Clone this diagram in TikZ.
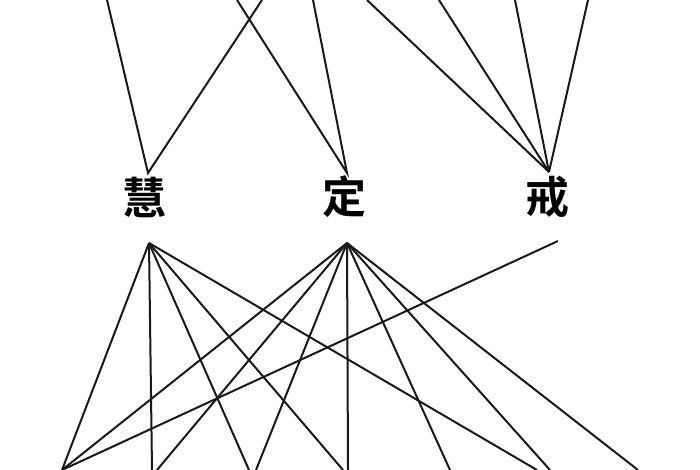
\documentclass[tikz,border=0pt]{standalone}
\usepackage{fontspec}
\newfontfamily\cjk{Noto Sans CJK SC Bold}
\begin{document}
\begin{tikzpicture}[x=1pt,y=-1pt,
  link/.style={draw=black!90,line width=2pt},
  lbl/.style={font=\cjk\fontsize{44}{44}\selectfont,inner sep=0pt}]
\path[use as bounding box] (0,0) rectangle (700,470);
% labels
\node[lbl] (hui)  at (144,197) {慧};
\node[lbl] (ding) at (344,197) {定};
\node[lbl] (jie)  at (547,197) {戒};
% apex points
\coordinate (hT) at (148,173);
\coordinate (dT) at (347,173);
\coordinate (jT) at (549,172);
\coordinate (hB) at (149,243);
\coordinate (dB) at (347,243);
\coordinate (jB) at (558,241);
% top ends
\coordinate (t1) at (107,0);
\coordinate (t2) at (262,0);
\coordinate (t3) at (237,0);
\coordinate (t4) at (313,0);
\coordinate (t5) at (367,0);
\coordinate (t6) at (439,0);
\coordinate (t7) at (515,0);
\coordinate (t8) at (588,0);
% bottom ends
\coordinate (b1) at (62,470);
\coordinate (b2) at (152,470);
\coordinate (b3) at (157,470);
\coordinate (b4) at (249,470);
\coordinate (b5) at (256,470);
\coordinate (b6) at (343,470);
\coordinate (b7) at (348,470);
\coordinate (b8) at (450,470);
\coordinate (b9) at (537,470);
\coordinate (b10) at (550,470);
\coordinate (b11) at (638,470);
% top connectors
\draw[link] (t1) -- (hT) -- (t2);
\draw[link] (t3) -- (dT) -- (t4);
\draw[link] (t5) -- (jT);
\draw[link] (t6) -- (jT);
\draw[link] (t7) -- (jT);
\draw[link] (t8) -- (jT);
% bottom connectors from hui
\foreach \b in {b1,b2,b4,b6,b9} \draw[link] (hB) -- (\b);
% bottom connectors from ding
\foreach \b in {b1,b3,b5,b7,b8,b10,b11} \draw[link] (dB) -- (\b);
% from jie
\draw[link] (jB) -- (b1);
\end{tikzpicture}
\end{document}
